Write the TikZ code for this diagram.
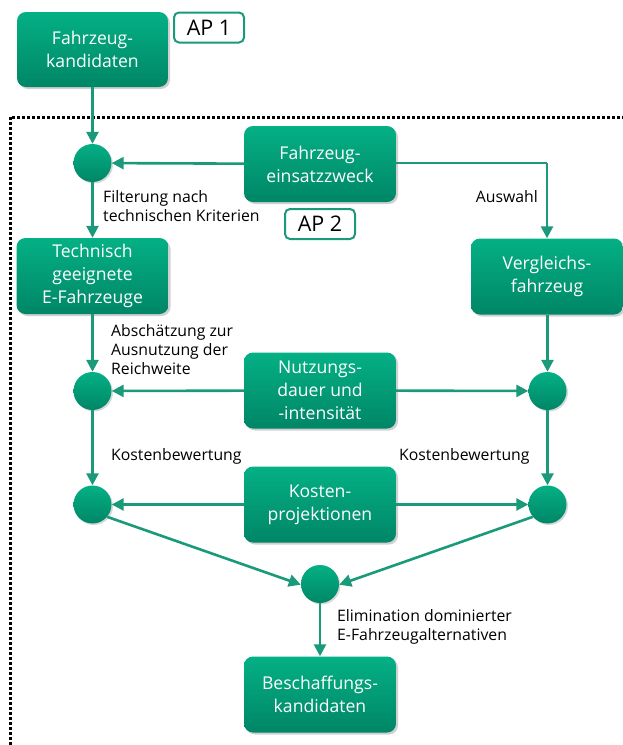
\documentclass[tikz,border=0pt]{standalone}
\usepackage{fontspec}
\setmainfont{Open Sans}
\usetikzlibrary{arrows.meta,shadows}
\definecolor{gtop}{RGB}{4,176,133}
\definecolor{gbot}{RGB}{0,134,102}
\definecolor{gline}{RGB}{26,154,122}
\tikzset{
  box/.style={rounded corners=9pt, top color=gtop, bottom color=gbot, draw=none,
    minimum width=152pt, minimum height=76pt, align=center, text=white,
    font=\fontsize{17.6}{23}\selectfont,
    drop shadow={shadow xshift=2pt, shadow yshift=-2pt, opacity=0.3, fill=black!60}},
  dot/.style={circle, top color=gtop, bottom color=gbot, draw=none, minimum size=38pt, inner sep=0pt,
    drop shadow={shadow xshift=1.5pt, shadow yshift=-1.5pt, opacity=0.25, fill=black!60}},
  apbox/.style={draw=gline, line width=2pt, rounded corners=5pt, fill=white,
    minimum width=70pt, minimum height=30pt, font=\fontsize{21.5}{24}\selectfont},
  lbl/.style={font=\fontsize{15.8}{19}\selectfont, align=left, inner sep=0pt},
  conn/.style={draw=gline, line width=2.6pt, -{Triangle[length=12pt,width=12pt]}},
  plain/.style={draw=gline, line width=2.6pt}
}
\begin{document}
\begin{tikzpicture}[x=1pt,y=-1pt]
\useasboundingbox (0,0) rectangle (622,745);
\fill[white] (0,0) rectangle (622,745);
% dotted frame
\draw[line width=3pt, dash pattern=on 2.6pt off 2.4pt] (10,760) -- (10,117) -- (640,117);

\node[box, minimum width=151pt, minimum height=75pt] (fk) at (92.5,49.5) {Fahrzeug-\\kandidaten};
\node[apbox] (ap1) at (209,27.5) {AP 1};

\node[dot] (c1) at (92.5,163) {};
\node[box] (fe) at (320,164) {Fahrzeug-\\einsatzzweck};
\node[apbox] (ap2) at (320,224) {AP 2};

\node[box] (tg) at (92.5,276) {Technisch\\geeignete\\E-Fahrzeuge};
\node[box] (vf) at (547,276.5) {Vergleichs-\\fahrzeug};

\node[dot] (c2l) at (92.5,391) {};
\node[box] (nd) at (320,390.5) {Nutzungs-\\dauer und\\-intensität};
\node[dot] (c2r) at (547.5,391) {};

\node[dot] (c3l) at (92.5,504.5) {};
\node[box] (kp) at (320,504.5) {Kosten-\\projektionen};
\node[dot] (c3r) at (547.5,504.5) {};

\node[dot] (cb) at (320,584) {};
\node[box] (bk) at (320,694.5) {Beschaffungs-\\kandidaten};

% connectors
\draw[conn] (fk) -- (c1);
\draw[conn] (fe) -- (c1);
\coordinate (vk) at (547,163);
\draw[plain] (fe.east |- vk) -- (vk);
\draw[conn] (vk) -- (vf.north);
\draw[conn] (c1) -- (tg);
\draw[conn] (tg) -- (c2l);
\draw[conn] (vf.south -| c2r) -- (c2r);
\draw[conn] (nd) -- (c2l);
\draw[conn] (nd) -- (c2r);
\draw[conn] (c2l) -- (c3l);
\draw[conn] (c2r) -- (c3r);
\draw[conn] (kp) -- (c3l);
\draw[conn] (kp) -- (c3r);
\draw[conn] (c3l.-40) -- (cb.182);
\draw[conn] (c3r.-140) -- (cb.-2);
\draw[conn] (cb) -- (bk);

% labels
\node[lbl, anchor=north west] (l1) at (103,190) {Filterung nach\\technischen Kriterien};
\node[lbl, anchor=north east] (l2) at (538,190) {Auswahl};
\node[lbl, anchor=north west] (l3) at (111,324) {Abschätzung zur\\Ausnutzung der\\Reichweite};
\node[lbl, anchor=north west] (l4) at (111,448) {Kostenbewertung};
\node[lbl, anchor=north west] (l5) at (399,448) {Kostenbewertung};
\node[lbl, anchor=north west] (l6) at (337,609) {Elimination dominierter\\E-Fahrzeugalternativen};
\end{tikzpicture}
\end{document}
